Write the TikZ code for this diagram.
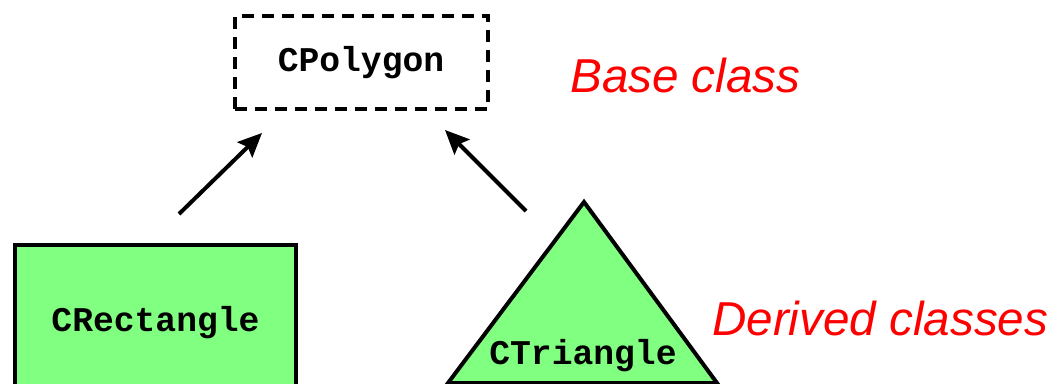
\documentclass[tikz,border=0pt]{standalone}
\usepackage{fontspec}
\setmonofont{Liberation Mono}
\setsansfont{Liberation Sans}
\usepackage{tikz}
\usetikzlibrary{arrows.meta,calc,positioning}
\definecolor{cgreen}{HTML}{80FF80}
\definecolor{cred}{HTML}{FF0000}
\tikzset{
  >={Stealth[length=18pt,width=16pt,inset=3pt]},
  cbase/.style={draw=black, line width=3pt, dash pattern=on 9pt off 6pt,
                minimum width=189.75pt, minimum height=69.75pt,
                font=\ttfamily\bfseries\fontsize{26}{28}\selectfont},
  cderived/.style={draw=black, fill=cgreen, line width=3pt, line join=miter},
  ctext/.style={font=\ttfamily\bfseries\fontsize{26}{28}\selectfont},
  clbl/.style={cred, font=\sffamily\itshape\fontsize{35.7}{38}\selectfont,
               anchor=west, inner sep=0pt},
  carrow/.style={->, line width=3pt},
}
\begin{document}
\begin{tikzpicture}[x=0.75pt,y=-0.75pt]
  \useasboundingbox (0,0) rectangle (1056,384);

  \node[cbase] (poly) at (361,62.5) {CPolygon};
  \node[clbl] (baselbl) at (570,75) {Base class};

  \node[cderived, ctext, minimum width=210.75pt, minimum height=117pt]
    (rect) at (155.5,323) {CRectangle};

  \draw[cderived] (584,202) coordinate (tritop) -- (448,383) coordinate (trileft)
    -- (717,383) coordinate (triright) -- cycle;
  \node[ctext] (tri) at (583,356) {CTriangle};
  \node[clbl] (derivedlbl) at (712,318) {Derived classes};

  \coordinate (rtail) at (179,214);
  \coordinate (rhead) at (262,133);
  \coordinate (ttail) at (526,211);
  \coordinate (thead) at (445,130);
  \draw[carrow] (rtail) -- (rhead);
  \draw[carrow] (ttail) -- (thead);

\end{tikzpicture}
\end{document}
